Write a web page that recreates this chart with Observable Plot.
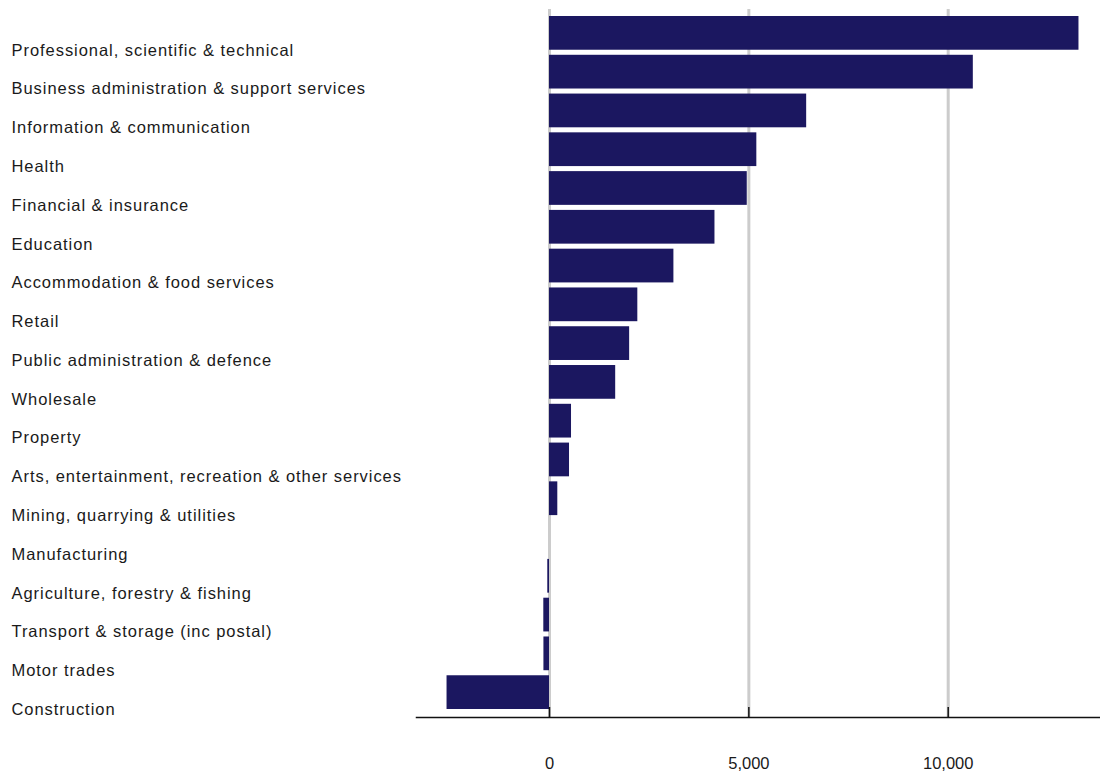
<!DOCTYPE html>
<html>
<head>
<meta charset="utf-8">
<script src="https://cdn.jsdelivr.net/npm/d3@7"></script>
<script src="https://cdn.jsdelivr.net/npm/@observablehq/plot@0.6"></script>
<style>
  html, body { margin: 0; padding: 0; background: #fff; }
  #chart svg { display: block; }
</style>
</head>
<body>
<div id="chart"></div>
<script>
const categories = [
  "Professional, scientific & technical",
  "Business administration & support services",
  "Information & communication",
  "Health",
  "Financial & insurance",
  "Education",
  "Accommodation & food services",
  "Retail",
  "Public administration & defence",
  "Wholesale",
  "Property",
  "Arts, entertainment, recreation & other services",
  "Mining, quarrying & utilities",
  "Manufacturing",
  "Agriculture, forestry & fishing",
  "Transport & storage (inc postal)",
  "Motor trades",
  "Construction"
];
const values = [13280, 10630, 6450, 5200, 4960, 4150, 3120, 2215, 2010, 1660, 552, 502, 208, 0, -43, -143, -140, -2570];
const xTicks = [0, 5000, 10000];

const data = categories.map((name, i) => ({name, value: values[i]}));
const fmt = d3.format(",");

const W = 1100, H = 778;
const chart = Plot.plot({
  width: W,
  height: H,
  marginLeft: 416,
  marginRight: 0,
  marginTop: 9,
  marginBottom: 61,
  style: {fontFamily: "'Liberation Sans', Arial, sans-serif", background: "#fff"},
  x: {domain: [-3336, 13820], axis: null},
  y: {domain: categories, range: [16, 709], paddingInner: 0.13, paddingOuter: 0, round: false, axis: null},
  marks: [
    Plot.gridX(xTicks, {stroke: "#cccccc", strokeOpacity: 1, strokeWidth: 3}),
    Plot.barX(data, {y: "name", x: "value", fill: "#1b1760"}),
    Plot.frame({anchor: "bottom", stroke: "#111", strokeWidth: 1.5}),
    Plot.tickX(xTicks, {x: d => d, insetTop: 698, stroke: "#111", strokeWidth: 1.5}),
    Plot.text(xTicks, {x: d => d, text: d => fmt(d), frameAnchor: "bottom", dy: 51, fontSize: 16.5, fill: "#1a1a1a"}),
    Plot.text(data, {y: "name", text: "name", frameAnchor: "left", textAnchor: "start", dx: -405, dy: 17, fontSize: 16.5, fill: "#1a1a1a"})
  ]
});
// widen category labels to match the reference's wider rendering
const textGroups = chart.querySelectorAll('g[aria-label="text"]');
const labelGroup = textGroups[textGroups.length - 1];
labelGroup.setAttribute("letter-spacing", "0.95px");
document.getElementById("chart").appendChild(chart);
</script>
</body>
</html>
